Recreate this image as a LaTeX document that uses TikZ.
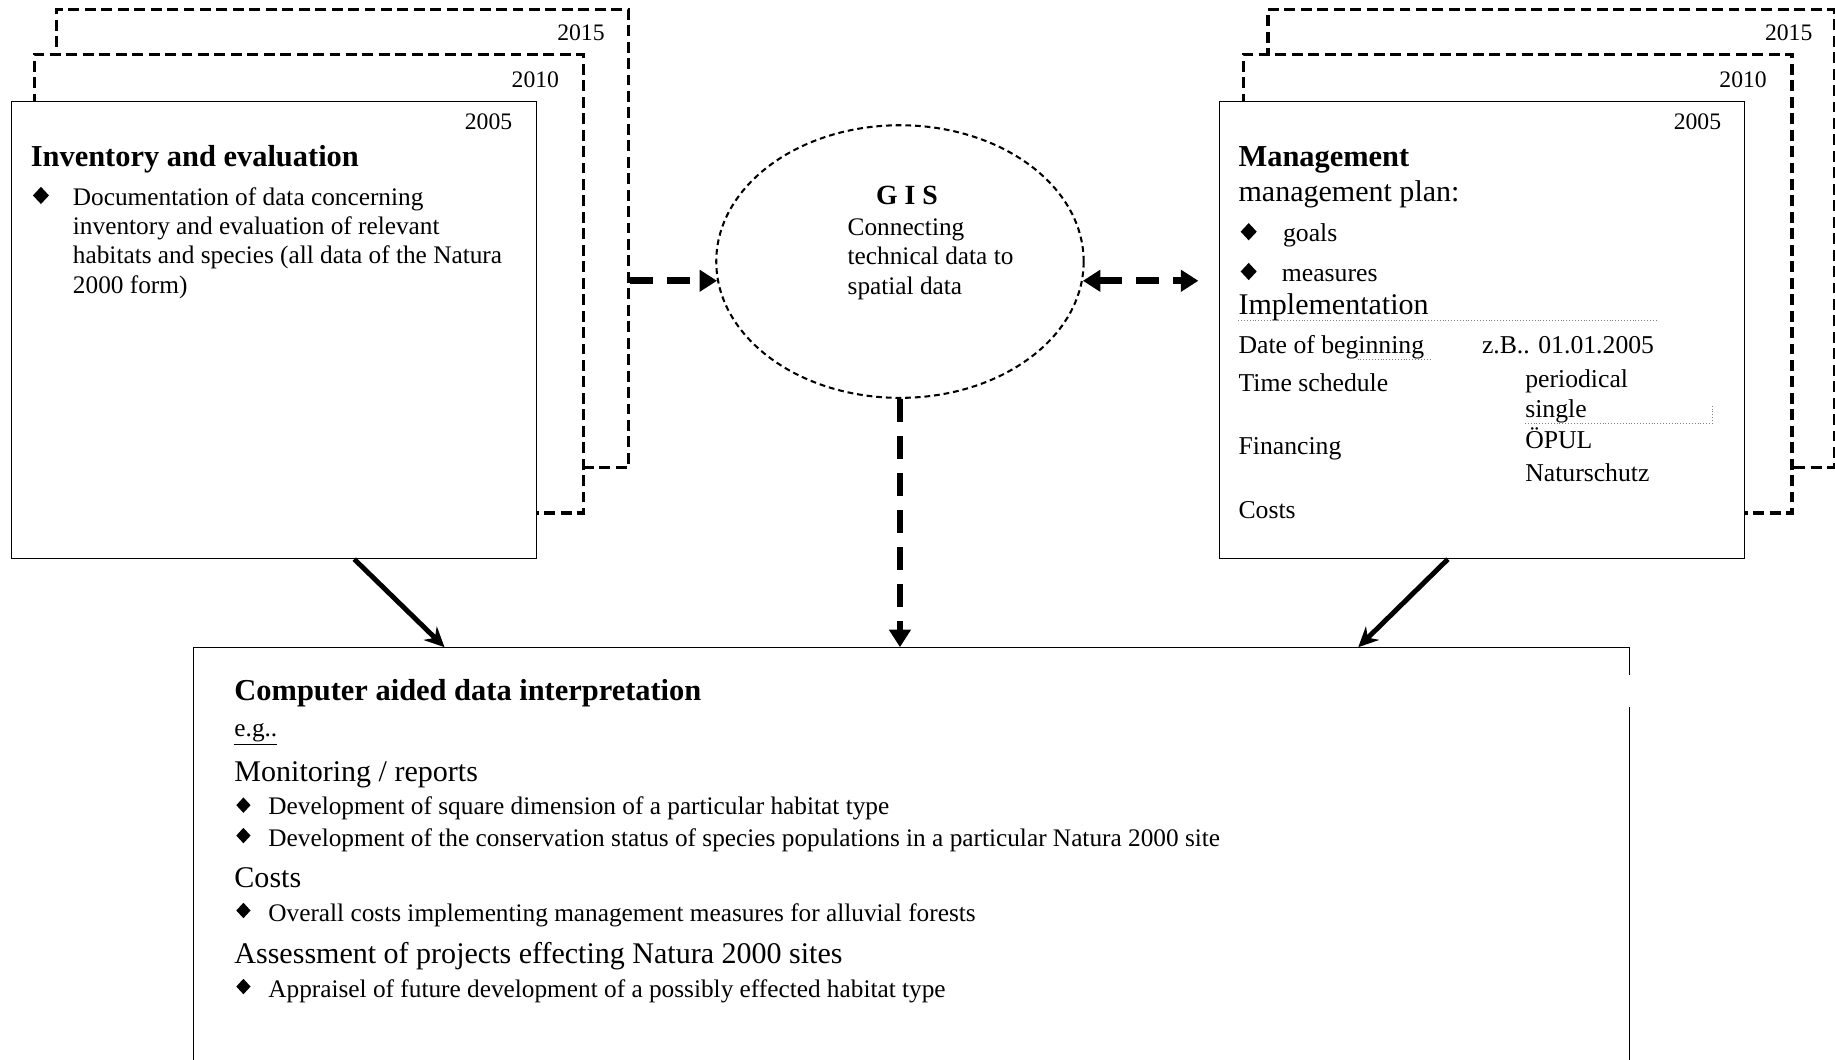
\documentclass[tikz,border=0pt]{standalone}
\usepackage{fontspec}
\setmainfont{Liberation Serif}
\usetikzlibrary{arrows.meta,shapes.geometric,calc}

\begin{document}
\begin{tikzpicture}[x=0.02cm,y=-0.02cm,every node/.style={inner sep=0pt},
  sheet/.style={draw,fill=white,line width=1.6pt,dash pattern=on 5.3pt off 2.7pt,anchor=north west},
  page/.style={draw,fill=white,line width=0.5pt,anchor=north west},
  yr/.style={anchor=east,font=\fontsize{11.5}{13}\selectfont},
  lbl/.style={anchor=west,text height=0.9em,text depth=0.06em},
  head/.style={lbl,font=\fontsize{14.8}{17}\selectfont\bfseries},
  big/.style={lbl,font=\fontsize{14.6}{17}\selectfont},
  mid/.style={lbl,font=\fontsize{12.5}{15}\selectfont},
  small/.style={lbl,font=\fontsize{12.3}{14}\selectfont},
  bul/.style={diamond,fill=black,minimum width=0.28cm,minimum height=0.3cm},
  sbul/.style={diamond,fill=black,minimum width=0.25cm,minimum height=0.27cm},
  dots/.style={gray,line width=0.4pt,densely dotted},
  dasharr/.style={line width=3.2pt,dash pattern=on 11pt off 7pt},
  tip/.tip={Triangle[length=0.3cm,width=0.36cm]},
  solarr/.style={line width=2.4pt,-{Stealth[length=0.34cm,width=0.32cm]}}]
\useasboundingbox (0,0) rectangle (1568,905);
\clip (0,0) rectangle (1568,905);

\node[sheet,minimum width=9.78cm,minimum height=7.82cm] (inv3) at (47,7) {};
\node[sheet,minimum width=9.38cm,minimum height=7.84cm] (inv2) at (28,45) {};
\node[page,minimum width=8.98cm,minimum height=7.82cm] (inv1) at (9,86) {};
\node[yr] (inv3y) at (517,28) {2015};
\node[yr] (inv2y) at (478,68) {2010};
\node[yr] (inv1y) at (438,104) {2005};

\node[head] (invh) at (26,135) {Inventory and evaluation};
\node[bul] (invb) at (35,167) {};
\foreach \t [count=\i] in {Documentation of data concerning,inventory and evaluation of relevant,habitats and species (all data of the Natura,2000 form)}
  \node[small] (invt\i) at (62,143+25*\i) {\t};

\node[sheet,minimum width=9.68cm,minimum height=7.82cm] (man3) at (1082,7) {};
\node[sheet,minimum width=9.38cm,minimum height=7.84cm] (man2) at (1061,45) {};
\node[page,minimum width=8.96cm,minimum height=7.82cm] (man1) at (1042,86) {};
\node[yr] (man3y) at (1549,28) {2015};
\node[yr] (man2y) at (1510,68) {2010};
\node[yr] (man1y) at (1471,104) {2005};

\node[head] (manh) at (1058,135) {Management};
\node[big] (plan) at (1058,165) {management plan:};
\node[bul] (goalb) at (1067,198) {};
\node[mid] (goal) at (1096,199) {goals};
\node[bul] (measb) at (1067,232) {};
\node[mid] (meas) at (1095,233) {measures};
\node[big] (impl) at (1058,261) {Implementation};
\draw[dots] (1058,274) -- (1416,274);
\node[mid] (date) at (1058,295) {Date of beginning};
\node[mid] (datev) at (1266,295) {z.B.. 01.01.2005};
\draw[dots] (1160,307) -- (1222,307);
\node[mid] (sched) at (1058,327) {Time schedule};
\node[mid] (per) at (1303,324) {periodical};
\node[mid] (sing) at (1303,349) {single};
\draw[dots] (1303,362) -- (1463,362) -- (1463,346);
\node[mid] (fin) at (1058,381) {Financing};
\node[mid] (opul) at (1303,376) {ÖPUL};
\node[mid] (natur) at (1303,404) {Naturschutz};
\node[mid] (cost) at (1058,436) {Costs};

\node[ellipse,draw,line width=1pt,dash pattern=on 2.8pt off 1.9pt,minimum width=6.28cm,minimum height=4.66cm] (gis) at (769,223.5) {};
\node[font=\fontsize{13.5}{16}\selectfont\bfseries] (gish) at (775,167) {G I S};
\foreach \t [count=\i] in {Connecting,technical data to,spatial data}
  \node[small] (gist\i) at (724,169+25*\i) {\t};

\node[page,minimum width=24.54cm,minimum height=8cm] (dat) at (165,553) {};
\draw[white,line width=2pt] ($(dat.north east)+(0,24)$) -- ++(0,27);
\node[head] (dath) at (200,591) {Computer aided data interpretation};
\node[small] (eg) at (200,622) {\underline{e.g..}};
\node[big] (mon) at (200,660) {Monitoring / reports};
\node[sbul] (monb1) at (208,688) {};
\node[small] (mon1) at (229,689) {Development of square dimension of a particular habitat type};
\node[sbul] (monb2) at (208,714) {};
\node[small] (mon2) at (229,716) {Development of the conservation status of species populations in a particular Natura 2000 site};
\node[big] (dcost) at (200,751) {Costs};
\node[sbul] (dcostb) at (208,778) {};
\node[small] (dcost1) at (229,780) {Overall costs implementing management measures for alluvial forests};
\node[big] (ass) at (200,816) {Assessment of projects effecting Natura 2000 sites};
\node[sbul] (assb) at (208,843) {};
\node[small] (ass1) at (229,845) {Appraisel of future development of a possibly effected habitat type};

\draw[dasharr,-tip] (inv3.east |- gis.186) -- (gis.186);
\draw[dasharr,tip-tip,shorten >=0.36cm] (gis.354) -- (man1.west |- gis.354);
\draw[dasharr,-tip] (gis.south) -- (dat.north -| gis.south);
\draw[solarr] ($(inv1.south west)!0.653!(inv1.south east)$) -- ($(dat.north west)!0.175!(dat.north east)$);
\draw[solarr] ($(man1.south west)!0.435!(man1.south east)$) -- ($(dat.north west)!0.811!(dat.north east)$);
\end{tikzpicture}
\end{document}
